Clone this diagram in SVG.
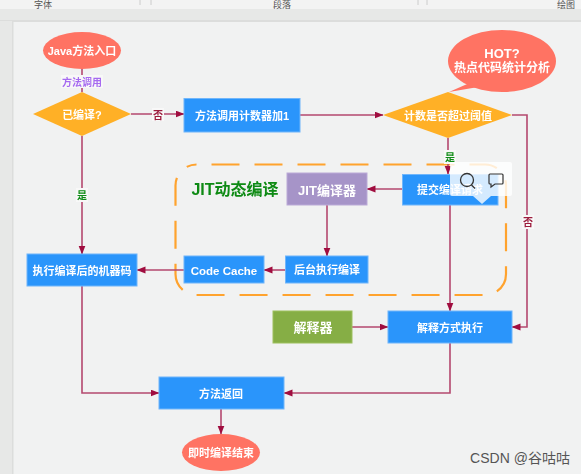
<svg xmlns="http://www.w3.org/2000/svg" width="581" height="474" viewBox="0 0 581 474">
<style>
text{font-family:"Liberation Sans","Noto Sans CJK SC",sans-serif;text-anchor:middle;dominant-baseline:central}
.b{fill:#2c95fb;stroke:#6fb6fb;stroke-width:1}
.o{fill:#ff7363}
.d{fill:#ffb027}
.w{fill:#fff;font-size:11px;font-weight:bold}
.c{fill:none;stroke:#b5496f;stroke-width:1.6;marker-end:url(#a)}
.n{fill:none;stroke:#b5496f;stroke-width:1.6}
.l{font-size:10px;font-weight:bold}
.lb{fill:#f8f8f8}
.rb{fill:#555;font-size:9px}
</style>
<defs>
<marker id="a" markerUnits="userSpaceOnUse" markerWidth="10" markerHeight="8" refX="8.5" refY="3.5" orient="auto"><path d="M0 0L9 3.5L0 7Z" fill="#a0103f"/></marker>
<filter id="s" x="-5%" y="-5%" width="110%" height="110%"><feGaussianBlur stdDeviation="0.55"/></filter>
</defs>
<rect width="581" height="474" fill="#f1f2f2"/>
<g id="chrome">
<rect width="581" height="9" fill="#f3f3f3"/>
<rect y="9" width="581" height="12" fill="#e7e8e7"/>
<rect y="20" width="581" height="2" fill="#dcdddc"/>
<rect y="21" width="13" height="453" fill="#e7e8e7"/>
<rect x="12" y="21" width="1.5" height="453" fill="#dcdddc"/>
<text class="rb" x="43" y="4.500">字体</text>
<text class="rb" x="282" y="4.500">段落</text>
<text class="rb" x="566" y="4.500">绘图</text>
<path d="M140 0V5M151 0V5M418 0V5M427 0V5" stroke="#ccc" fill="none"/>
</g>
<g filter="url(#s)">
<g id="jit-boundary">
<rect x="175.500" y="164.500" width="330.500" height="130.500" rx="21" fill="none" stroke="#ffa32f" stroke-width="2.200" stroke-dasharray="28 15" stroke-dashoffset="28"/>
<text x="235" y="189" font-weight="bold" fill="#0b8a12" style="font-size:16px">JIT动态编译</text>
</g>
<g id="connectors">
<path class="n" d="M82 69V92"/>
<path class="c" d="M82 136V254"/>
<path class="c" d="M131 114H184"/>
<path class="c" d="M300 115H383"/>
<path class="c" d="M448 138V174"/>
<path class="c" d="M402 189H367"/>
<path class="c" d="M327 205V256"/>
<path class="c" d="M285 270H264"/>
<path class="c" d="M184 270H137"/>
<path class="c" d="M450 205V311"/>
<path class="c" d="M352 327H388"/>
<path class="c" d="M512 115H527V327H512"/>
<path class="c" d="M450 343V393H284"/>
<path class="c" d="M82 286V393H159"/>
<path class="c" d="M221 409V434"/>
<rect class="lb" x="61" y="75" width="42" height="13"/>
<text class="l" x="82" y="82" fill="#a66bf0">方法调用</text>
<rect class="lb" x="152" y="108" width="12" height="13"/>
<text class="l" x="158" y="115" fill="#9c1a3c">否</text>
<rect class="lb" x="76" y="188" width="12" height="14"/>
<text class="l" x="82" y="195" fill="#0b8a12">是</text>
<rect class="lb" x="444" y="150" width="12" height="14"/>
<text class="l" x="450" y="157" fill="#0b8a12">是</text>
<rect class="lb" x="522" y="215" width="12" height="14"/>
<text class="l" x="528" y="222" fill="#9c1a3c">否</text>
</g>
<g id="start"><ellipse class="o" cx="82" cy="50.500" rx="39" ry="18.500"/><text class="w" x="82" y="51">Java方法入口</text></g>
<g id="compiled"><path class="d" d="M82 92L131 114L82 136L33 114Z"/><text class="w" x="82" y="114.500">已编译?</text></g>
<g id="counter"><rect class="b" x="184" y="98.500" width="116" height="33.500"/><text class="w" x="242" y="116">方法调用计数器加1</text></g>
<g id="threshold"><path class="d" d="M448 92L512 115L448 138L383 115Z"/><text class="w" x="448" y="116">计数是否超过阈值</text></g>
<g id="hot"><path class="o" d="M449 92L474 81L490 85Z"/><ellipse class="o" cx="502" cy="61" rx="54" ry="31"/><text class="w" x="502" y="53" style="font-size:13px">HOT?</text><text class="w" x="502" y="68" style="font-size:12px">热点代码统计分析</text></g>
<g id="jit"><rect x="287" y="173" width="80" height="32" fill="#a694c8" stroke="#bbaad8"/><text class="w" x="327" y="190" style="font-size:13px">JIT编译器</text></g>
<g id="submit"><rect class="b" x="402.500" y="174.500" width="95.500" height="30.500"/><text class="w" x="450" y="190">提交编译请求</text></g>
<g id="background"><rect class="b" x="285.500" y="256" width="82.500" height="27"/><text class="w" x="327" y="270">后台执行编译</text></g>
<g id="cache"><rect class="b" x="184" y="256" width="80" height="27"/><text class="w" x="224" y="271" style="font-size:11.500px">Code Cache</text></g>
<g id="machine"><rect class="b" x="27" y="254" width="110" height="32"/><text class="w" x="82" y="271">执行编译后的机器码</text></g>
<g id="interpreter"><rect x="273" y="311" width="79" height="32" fill="#86ae44" stroke="#9dc05f"/><text class="w" x="313" y="327" style="font-size:13px">解释器</text></g>
<g id="interpret"><rect class="b" x="388" y="311" width="124" height="32"/><text class="w" x="450" y="328">解释方式执行</text></g>
<g id="return"><rect class="b" x="159" y="377" width="125" height="32"/><text class="w" x="221" y="394">方法返回</text></g>
<g id="end"><ellipse class="o" cx="221" cy="452.500" rx="39" ry="18.500"/><text class="w" x="221" y="453">即时编译结束</text></g>
</g>
<g id="popup">
<rect x="450" y="162" width="62" height="34" rx="2" fill="#fff" fill-opacity="0.8"/>
<path d="M473 196H491L482 204Z" fill="#fff" fill-opacity="0.8"/>
<circle cx="467" cy="180" r="6.500" fill="none" stroke="#333" stroke-width="1.300"/>
<path d="M471.500 185L475 188.500" stroke="#333" stroke-width="1.300"/>
<path d="M490 174H502Q503 174 503 175V183Q503 184 502 184H495L491 187V184H490Q489 184 489 183V175Q489 174 490 174Z" fill="none" stroke="#333" stroke-width="1.200"/>
</g>
<text x="520" y="458" fill="#555" style="font-size:14px">CSDN @谷咕咕</text>
</svg>
